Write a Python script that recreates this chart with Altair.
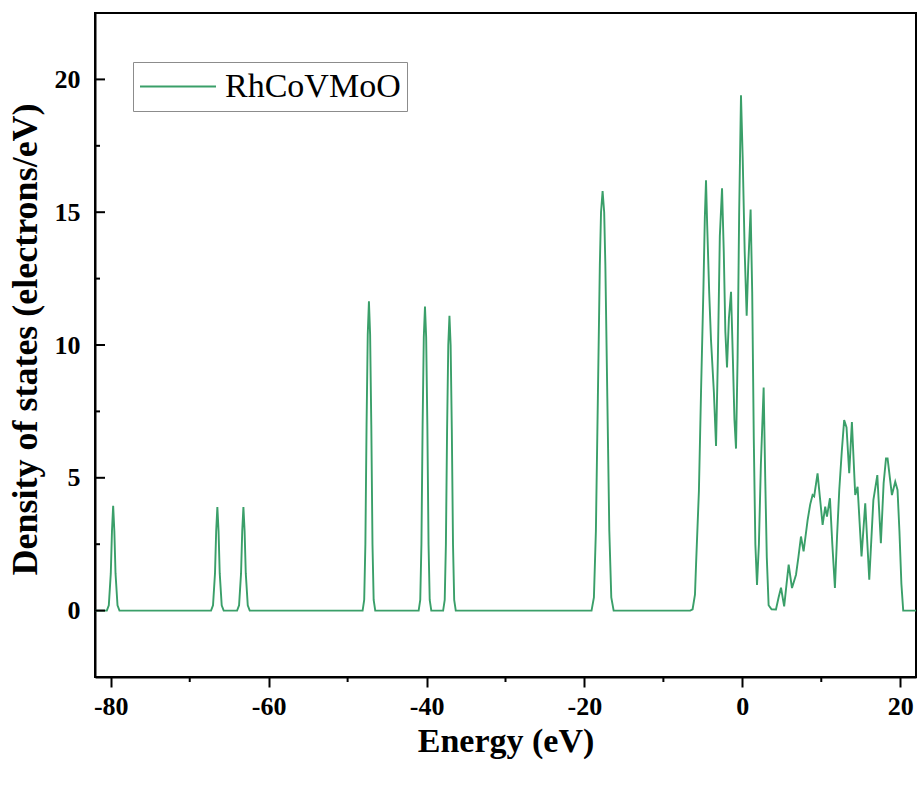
import altair as alt
import pandas as pd

SERIES = "RhCoVMoO"
LINE_COLOR = "#3a9f69"
SERIF = "Liberation Serif"

# Core-level states: (energy in eV, DOS in electrons/eV)
peak_a = [(-80.5, 0), (-80.25, 0.2), (-80.0, 1.4), (-79.85, 3.0), (-79.7, 3.95),
          (-79.55, 3.0), (-79.4, 1.4), (-79.15, 0.2), (-78.9, 0)]
peak_b = [(-67.3, 0), (-67.05, 0.2), (-66.8, 1.4), (-66.65, 3.0), (-66.5, 3.9),
          (-66.35, 3.0), (-66.2, 1.4), (-65.95, 0.2), (-65.7, 0)]
peak_c = [(-64.0, 0), (-63.75, 0.2), (-63.5, 1.4), (-63.35, 3.0), (-63.2, 3.9),
          (-63.05, 3.0), (-62.9, 1.4), (-62.65, 0.2), (-62.4, 0)]
peak_d = [(-48.1, 0), (-47.9, 0.4), (-47.75, 2.5), (-47.6, 7.0), (-47.45, 10.4),
          (-47.3, 11.65), (-47.15, 10.4), (-47.0, 7.0), (-46.85, 2.5), (-46.7, 0.4), (-46.5, 0)]
peak_e = [(-41.0, 0), (-40.8, 0.4), (-40.65, 2.5), (-40.5, 7.0), (-40.35, 10.3),
          (-40.2, 11.45), (-40.05, 10.3), (-39.9, 7.0), (-39.75, 2.5), (-39.6, 0.4), (-39.4, 0)]
peak_f = [(-37.9, 0), (-37.7, 0.4), (-37.55, 2.5), (-37.4, 6.8), (-37.25, 10.0),
          (-37.1, 11.1), (-36.95, 10.0), (-36.8, 6.8), (-36.65, 2.5), (-36.5, 0.4), (-36.3, 0)]
peak_g = [(-19.1, 0), (-18.8, 0.5), (-18.55, 3.0), (-18.3, 8.0), (-18.05, 13.0),
          (-17.9, 15.0), (-17.7, 15.8), (-17.5, 15.0), (-17.35, 13.0), (-17.1, 8.0),
          (-16.85, 3.0), (-16.6, 0.5), (-16.3, 0)]

# Valence and conduction band region
valence = [(-6.6, 0), (-6.3, 0.05), (-6.0, 0.6), (-5.86, 1.75), (-5.5, 4.5), (-5.23, 8.25),
           (-4.93, 12.1), (-4.75, 14.8), (-4.6, 16.2), (-4.45, 14.5), (-4.2, 12.0),
           (-3.97, 10.2), (-3.6, 8.2), (-3.33, 6.2), (-3.1, 9.5), (-2.85, 14.1),
           (-2.57, 15.9), (-2.35, 13.5), (-2.15, 10.5), (-1.94, 9.15), (-1.7, 11.0),
           (-1.43, 12.0), (-1.2, 9.5), (-1.0, 7.2), (-0.8, 6.1), (-0.6, 9.5), (-0.4, 15.0),
           (-0.17, 19.4), (0.05, 17.0), (0.3, 13.5), (0.55, 11.1), (0.75, 13.0), (1.05, 15.1),
           (1.25, 12.0), (1.45, 6.5), (1.65, 2.5), (1.86, 0.97), (2.1, 2.5), (2.35, 5.5),
           (2.7, 8.4), (2.9, 5.0), (3.1, 2.0), (3.33, 0.2), (3.7, 0.05), (4.26, 0.04),
           (4.6, 0.5), (4.9, 0.86), (5.3, 0.16), (5.6, 1.0), (5.87, 1.73), (6.29, 0.85),
           (6.8, 1.35), (7.1, 2.0), (7.43, 2.79), (7.76, 2.23), (8.27, 3.41), (8.6, 4.0),
           (8.9, 4.35), (9.1, 4.3), (9.53, 5.17), (9.85, 4.2), (10.17, 3.23), (10.5, 3.91),
           (10.72, 3.54), (11.1, 4.23), (11.4, 2.5), (11.73, 0.85), (12.0, 2.8), (12.28, 4.54),
           (12.6, 6.0), (12.9, 7.17), (13.2, 6.9), (13.54, 5.17), (13.88, 7.1), (14.3, 4.35),
           (14.6, 4.66), (15.1, 2.04), (15.57, 4.04), (16.08, 1.16), (16.6, 4.16), (17.1, 5.1),
           (17.55, 2.54), (17.9, 4.8), (18.2, 5.73), (18.4, 5.73), (18.95, 4.35), (19.37, 4.85),
           (19.66, 4.54), (19.9, 3.0), (20.15, 1.0), (20.38, 0.0)]

start_point = [(-82.0, 0)]
end_point = [(22.0, 0)]

x_major_ticks = [-80, -60, -40, -20, 0, 20]
x_minor_ticks = [-70, -50, -30, -10, 10]
y_major_ticks = [0, 5, 10, 15, 20]
y_minor_ticks = [2.5, 7.5, 12.5, 17.5]
x_domain = [-82, 22]
y_domain = [-2.5, 22.5]

points = (start_point + peak_a + peak_b + peak_c + peak_d + peak_e + peak_f
          + peak_g + valence + end_point)
dos_df = pd.DataFrame(points, columns=["energy", "dos"])
dos_df["series"] = SERIES

x_scale = alt.Scale(domain=x_domain, nice=False, zero=False)
y_scale = alt.Scale(domain=y_domain, nice=False, zero=False)

PLOT_W, PLOT_H = 821, 664

line = alt.Chart(dos_df).mark_line(strokeWidth=1.9, interpolate="linear").encode(
    x=alt.X("energy:Q", scale=x_scale, title="Energy (eV)",
            axis=alt.Axis(values=x_major_ticks, labelExpr="'' + datum.value")),
    y=alt.Y("dos:Q", scale=y_scale, title="Density of states (electrons/eV)",
            axis=alt.Axis(values=y_major_ticks, labelExpr="'' + datum.value",
                          titleY=326)),
    color=alt.Color("series:N",
                    scale=alt.Scale(domain=[SERIES], range=[LINE_COLOR]),
                    legend=alt.Legend(title=None, orient="none", legendX=38, legendY=49,
                                      symbolType="stroke", symbolSize=5776,
                                      symbolStrokeWidth=2, labelFont=SERIF,
                                      labelFontSize=34, labelColor="black", labelLimit=0,
                                      strokeColor="#8c8c8c", fillColor="white",
                                      padding=6, labelOffset=8, clipHeight=37)),
)

# minor ticks on the energy axis (outward)
x_minor = alt.Chart(pd.DataFrame({"energy": x_minor_ticks})).mark_rule(
    color="black", strokeWidth=2).encode(
    x=alt.X("energy:Q", scale=x_scale),
    y=alt.value(PLOT_H), y2=alt.value(PLOT_H + 5))

# inward ticks on the DOS axis
y_major = alt.Chart(pd.DataFrame({"dos": y_major_ticks})).mark_rule(
    color="black", strokeWidth=2).encode(
    y=alt.Y("dos:Q", scale=y_scale), x=alt.value(0), x2=alt.value(10))
y_minor = alt.Chart(pd.DataFrame({"dos": y_minor_ticks})).mark_rule(
    color="black", strokeWidth=2).encode(
    y=alt.Y("dos:Q", scale=y_scale), x=alt.value(0), x2=alt.value(5))

chart = alt.layer(line, x_minor, y_major, y_minor).properties(
    width=PLOT_W, height=PLOT_H,
    padding={"left": 95, "top": 13, "right": 2, "bottom": 108},
    autosize=alt.AutoSizeParams(type="none"),
    background="white",
).configure_view(
    stroke="black", strokeWidth=2
).configure_axis(
    grid=False, domainColor="black", domainWidth=2,
    labelFont=SERIF, labelFontWeight="bold", labelFontSize=26, labelColor="black",
    titleFont=SERIF, titleFontWeight="bold", titleColor="black",
).configure_axisX(
    tickSize=10, tickWidth=2, tickColor="black", labelPadding=6, titlePadding=5,
    titleFontSize=34,
).configure_axisY(
    ticks=False, labelPadding=15, titlePadding=10, titleFontSize=36,
)

chart.save("out.html", embed_options={"renderer": "svg", "actions": False})
